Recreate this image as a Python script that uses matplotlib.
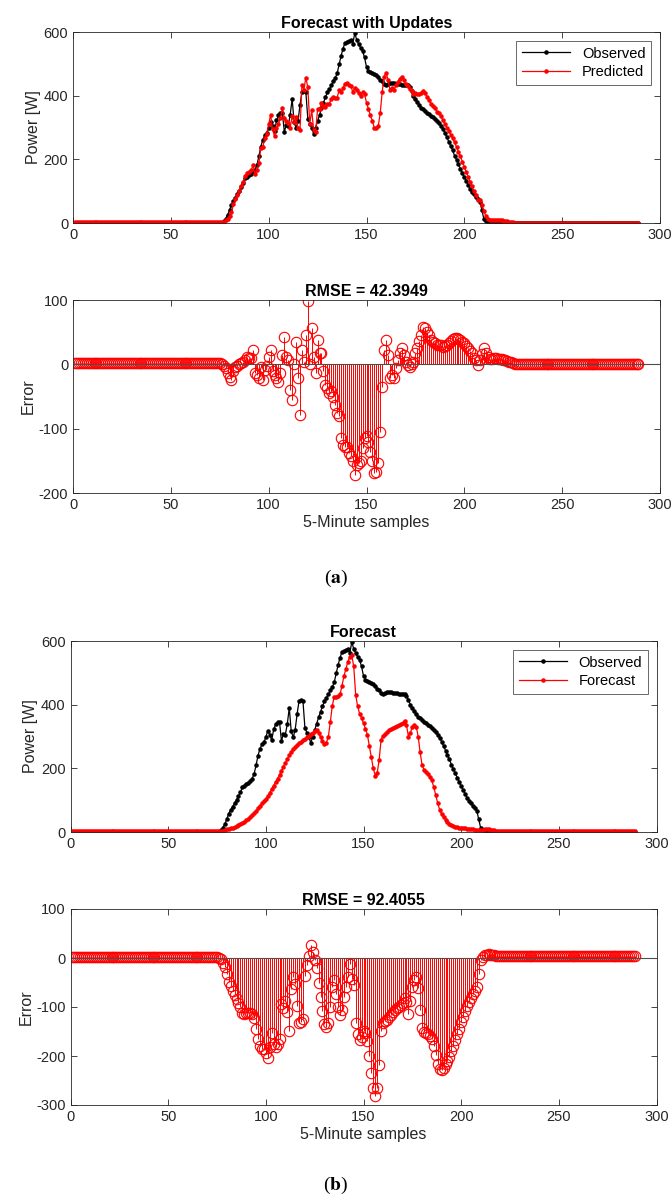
import numpy as np
import matplotlib
matplotlib.use("Agg")
import matplotlib.pyplot as plt

plt.rcParams['font.family'] = ['Liberation Sans', 'DejaVu Sans']
plt.rcParams['mathtext.fontset'] = 'stix'
plt.rcParams['axes.unicode_minus'] = False

# observed power [W], samples 1..289 (night = 0)
observed_day = [
    1, 5, 14, 25, 40, 58, 70, 80, 90, 101,
    113, 125, 140, 146, 150, 155, 160, 168, 182, 210,
    240, 262, 275, 282, 298, 318, 305, 288, 322, 338,
    344, 346, 286, 308, 306, 340, 390, 316, 298, 320,
    370, 412, 414, 412, 328, 312, 298, 280, 300, 320,
    340, 360, 378, 395, 410, 420, 432, 445, 455, 470,
    498, 525, 548, 566, 569, 572, 574, 562, 597, 575,
    562, 550, 540, 520, 490, 478, 474, 471, 469, 465,
    458, 450, 445, 438, 434, 436, 440, 441, 440, 438,
    437, 436, 435, 434, 433, 432, 426, 415, 400, 390,
    380, 370, 362, 357, 352, 345, 341, 336, 332, 328,
    320, 314, 306, 296, 284, 270, 256, 242, 228, 212,
    198, 184, 171, 158, 144, 132, 120, 108, 98, 90,
    82, 74, 66, 40, 12, 5, 2, 1, 0, 0]
observed = [0] * 75 + observed_day + [0] * 74

# error of the forecast with updates (predicted - observed)
error_updates_day = [
    1, -2, -6, -14, -19, -24, -11, -4, -2, 0,
    2, 4, 7, 12, 10, 10, 22, -14, -16, -22,
    -4, -24, -9, -2, 12, 22, -11, -16, -22, -27,
    -14, 14, 43, 12, 7, -40, -55, 0, 35, -22,
    -79, 22, 4, 45, 98, 0, 56, 12, -14, 38,
    17, 17, -11, -32, -37, -45, -42, -50, -63, -76,
    -81, -115, -125, -128, -128, -138, -143, -151, -172, -156,
    -154, -151, -130, -115, -112, -120, -136, -151, -169, -167,
    -154, -105, -35, 22, 38, 14, -22, -17, -22, -6,
    7, 17, 25, 14, 4, -1, -4, 0, 4, 17,
    25, 36, 45, 58, 56, 51, 45, 38, 35, 33,
    30, 30, 30, 27, 28, 30, 33, 36, 39, 41,
    41, 40, 38, 35, 33, 28, 25, 20, 17, 10,
    7, -1, 7, 16, 25, 17, 12, 9, 9, 10]
error_updates_night = [10, 9, 9, 8, 7, 6, 5, 4, 3, 2, 1] + [0] * 24 + [1] * 39
error_updates = [2] * 75 + error_updates_day + error_updates_night

# forecast without updates [W]
forecast_day = [
    2, 3, 4, 6, 8, 10, 12, 13, 15, 18,
    21, 24, 28, 32, 37, 42, 47, 53, 60, 66,
    74, 82, 90, 97, 104, 113, 124, 135, 146, 157,
    168, 180, 192, 205, 218, 230, 241, 252, 260, 267,
    273, 279, 284, 288, 292, 298, 302, 307, 312, 316,
    320, 310, 298, 286, 276, 280, 300, 345, 395, 425,
    424, 426, 432, 460, 490, 512, 535, 550, 555, 520,
    430, 395, 372, 358, 341, 325, 305, 270, 235, 200,
    177, 185, 226, 290, 302, 308, 314, 320, 324, 328,
    331, 333, 336, 338, 341, 350, 336, 300, 312, 330,
    336, 331, 300, 250, 210, 195, 188, 181, 172, 162,
    140, 116, 90, 70, 55, 46, 39, 32, 26, 22,
    19, 16, 15, 14, 13, 12, 11, 10, 9, 8,
    8, 7, 7, 7, 7, 7, 8, 8, 8, 7]
forecast = [2] * 75 + forecast_day + [7, 6] + [4] * 72

samples = np.arange(1, len(observed) + 1)
observed = np.array(observed, dtype=float)
predicted = observed + np.array(error_updates, dtype=float)
forecast = np.array(forecast, dtype=float)
error_forecast = forecast - observed

W, H = 672, 1202
fig = plt.figure(figsize=(W / 100, H / 100), dpi=100)

def px_axes(left, top, right, bottom):
    return fig.add_axes([left / W, 1 - bottom / H, (right - left) / W, (bottom - top) / H])

def matlab_style(ax):
    for s in ax.spines.values():
        s.set_color('0.15')
        s.set_linewidth(0.6)
    ax.tick_params(direction='in', top=True, right=True, length=4, width=0.6,
                   colors='0.15', labelsize=10.5, labelcolor='0.15')
    ax.set_xlim(0, 300)
    ax.set_xticks(range(0, 301, 50))

def power_panel(ax, red, red_label, title):
    ax.plot(samples, observed, 'k.-', lw=0.9, ms=4.5, label='Observed')
    ax.plot(samples, red, '.-', color='red', lw=0.9, ms=4.5, label=red_label)
    matlab_style(ax)
    ax.set_ylim(0, 600)
    ax.set_yticks([0, 200, 400, 600])
    ax.set_ylabel('Power [W]', fontsize=11.5, color='0.15', labelpad=2)
    ax.set_title(title, fontsize=11.5, fontweight='bold', pad=3)
    leg = ax.legend(loc='upper right', fontsize=10.5, handlelength=3.3,
                    frameon=True, fancybox=False, borderpad=0.4,
                    labelspacing=0.3, borderaxespad=0.6)
    leg.get_frame().set_edgecolor('0.15')
    leg.get_frame().set_linewidth(0.6)

def error_panel(ax, err, title, ymin):
    markerline, stemlines, baseline = ax.stem(samples, err, linefmt='r-',
                                               markerfmt='ro', basefmt='-')
    markerline.set_markerfacecolor('none')
    markerline.set_markeredgecolor('red')
    markerline.set_markersize(7.5)
    markerline.set_markeredgewidth(0.8)
    stemlines.set_color('red')
    stemlines.set_linewidth(0.7)
    baseline.set_color('0.3')
    baseline.set_linewidth(0.8)
    baseline.set_xdata([0, 300])
    matlab_style(ax)
    ax.set_ylim(ymin, 100)
    ax.set_yticks(range(ymin, 101, 100))
    ax.set_ylabel('Error', fontsize=11.5, color='0.15', labelpad=2)
    ax.set_xlabel('5-Minute samples', fontsize=11.5, color='0.15', labelpad=2)
    ax.set_title(title, fontsize=11.5, fontweight='bold', pad=3)

ax1 = px_axes(73, 32, 660, 223)
power_panel(ax1, predicted, 'Predicted', 'Forecast with Updates')

ax2 = px_axes(73, 300, 660, 493)
error_panel(ax2, error_updates, 'RMSE = 42.3949', -200)

ax3 = px_axes(70.5, 641, 656.5, 832)
power_panel(ax3, forecast, 'Forecast', 'Forecast')

ax4 = px_axes(70.5, 909, 656.5, 1105)
error_panel(ax4, error_forecast, 'RMSE = 92.4055', -300)

fig.text(0.5, 1 - 578 / H, r'($\mathbf{a}$)', ha='center', va='center',
         fontsize=14, family='Liberation Serif')
fig.text(0.5, 1 - 1185 / H, r'($\mathbf{b}$)', ha='center', va='center',
         fontsize=14, family='Liberation Serif')

fig.savefig('out.png', dpi=100)
